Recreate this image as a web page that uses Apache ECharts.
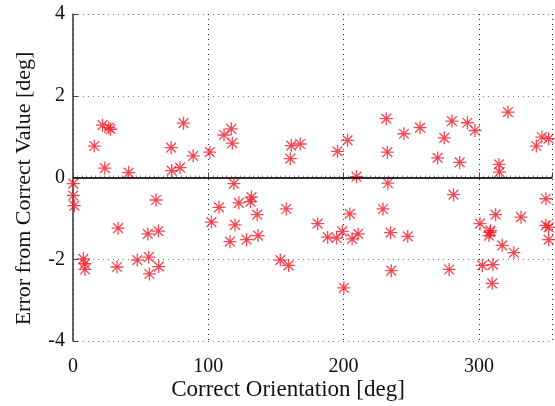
<!DOCTYPE html>
<html>
<head>
<meta charset="utf-8">
<script src="https://cdn.jsdelivr.net/npm/echarts@6/dist/echarts.min.js"></script>
<style>html,body{margin:0;padding:0;background:#fff}#c{width:555px;height:406px}</style>
</head>
<body>
<div id="c"></div>
<script>
var xTicks = [0, 100, 200, 300];
var yTicks = [-4, -2, 0, 2, 4];
var xTitle = 'Correct Orientation [deg]';
var yTitle = 'Error from Correct Value [deg]';
var orientation = [
  0.2, 0.2, 1.0, 7.6, 8.8, 8.8, 15.7, 21.8, 23.5, 26.5, 27.7, 32.5, 33.3, 41.1,
  47.5, 55.3, 56.0, 56.5, 61.4, 63.1, 63.4, 72.5, 72.9, 79.1, 81.7, 88.8,
  101.1, 102.3, 107.9, 111.6, 116.0, 117.0, 117.7, 118.9, 119.7, 122.6, 128.3,
  131.2, 131.9, 136.1, 136.8, 153.2, 157.6, 159.3, 160.6, 161.3, 167.9,
  180.8, 188.2, 194.8, 195.5, 199.0, 200.2, 202.9, 204.6, 206.3, 209.5, 210.7,
  229.1, 231.5, 232.3, 232.7, 234.7, 235.2, 244.5, 247.4, 256.5, 269.5, 274.4,
  278.0, 280.0, 281.2, 285.8, 291.5, 297.1, 300.8, 302.5, 307.4, 308.1, 308.6,
  309.8, 310.3, 312.3, 314.8, 315.2, 317.2, 321.4, 325.8, 331.1, 342.4, 346.5,
  349.5, 349.5, 351.5, 351.5, 351.5
];
var errorDeg = [
  -0.15, -0.44, -0.69, -1.99, -2.11, -2.25, 0.77, 1.28, 0.23, 1.22, 1.18, -2.19, -1.24, 0.12,
  -2.02, -1.38, -1.95, -2.36, -0.55, -1.31, -2.18, 0.73, 0.17, 0.24, 1.33, 0.53,
  0.62, -1.09, -0.73, 1.04, -1.57, 1.19, 0.84, -0.15, -1.16, -0.62, -1.52,
  -0.59, -0.48, -0.91, -1.42, -2.02, -0.77, -2.15, 0.46, 0.78, 0.82,
  -1.13, -1.46, -1.48, 0.64, -1.32, -2.70, 0.91, -0.89, -1.50, 0.02, -1.38,
  -0.77, 1.44, 0.62, -0.14, -1.35, -2.28, 1.07, -1.44, 1.22, 0.48, 0.97,
  -2.25, 1.38, -0.42, 0.37, 1.34, 1.15, -1.13, -2.15, -1.42, -1.34, -1.30,
  -2.59, -2.13, -0.91, 0.32, 0.13, -1.66, 1.60, -1.84, -0.97, 0.77, 0.99,
  -0.52, -1.17, 0.95, -1.22, -1.52
];
var points = orientation.map(function (x, i) { return [x, errorDeg[i]]; });

var chart = echarts.init(document.getElementById('c'), null, {renderer: 'canvas'});
var star = 'path://M0,-10L0,10M-10,0L10,0M-7.5,-7.5L7.5,7.5M-7.5,7.5L7.5,-7.5';
chart.setOption({
  animation: false,
  backgroundColor: '#fff',
  grid: {left: 73, right: 0, top: 14, bottom: 65, containLabel: false},
  graphic: [
    {type: 'text', x: 288, y: 390,
     style: {text: xTitle, font: '23px "Liberation Serif"', fill: '#111', align: 'center', verticalAlign: 'middle'}},
    {type: 'text', x: 24, y: 188.5, rotation: Math.PI / 2,
     style: {text: yTitle, font: '22px "Liberation Serif"', fill: '#111', align: 'center', verticalAlign: 'middle'}}
  ],
  xAxis: {
    type: 'value', min: 0, max: 354, interval: 100,
    axisLine: {show: true, lineStyle: {color: '#555', width: 1.5}},
    axisTick: {show: true, inside: true, length: 5, lineStyle: {color: '#444'}},
    minorTick: {show: true, splitNumber: 30, length: 2, lineStyle: {color: '#888'}},
    axisLabel: {fontFamily: 'Liberation Serif', fontSize: 20, color: '#111', margin: 16,
      formatter: function (v) { return xTicks.indexOf(v) >= 0 ? String(v) : ''; }},
    splitLine: {show: true, lineStyle: {color: '#222', type: [1, 4], width: 1}}
  },
  yAxis: {
    type: 'value', min: -4, max: 4, interval: 2,
    axisLine: {show: true, lineStyle: {color: '#333', width: 1.5}},
    axisTick: {show: true, inside: true, length: 5, lineStyle: {color: '#444'}},
    axisLabel: {fontFamily: 'Liberation Serif', fontSize: 20, color: '#111', margin: 8,
      formatter: function (v) { return yTicks.indexOf(v) >= 0 ? String(v) : ''; }},
    splitLine: {show: true, lineStyle: {color: '#777', type: [1, 4], width: 1}}
  },
  series: [{
    type: 'scatter',
    data: points,
    symbol: star,
    symbolSize: 13,
    symbolKeepAspect: true,
    itemStyle: {color: 'rgba(0,0,0,0)', borderColor: '#f01a28', borderWidth: 1.3},
    markLine: {
      silent: true, symbol: ['none', 'none'], label: {show: false},
      lineStyle: {color: '#111', type: 'solid', width: 1.5},
      data: [{yAxis: 0}]
    },
    z: 3
  }]
});
</script>
</body>
</html>
